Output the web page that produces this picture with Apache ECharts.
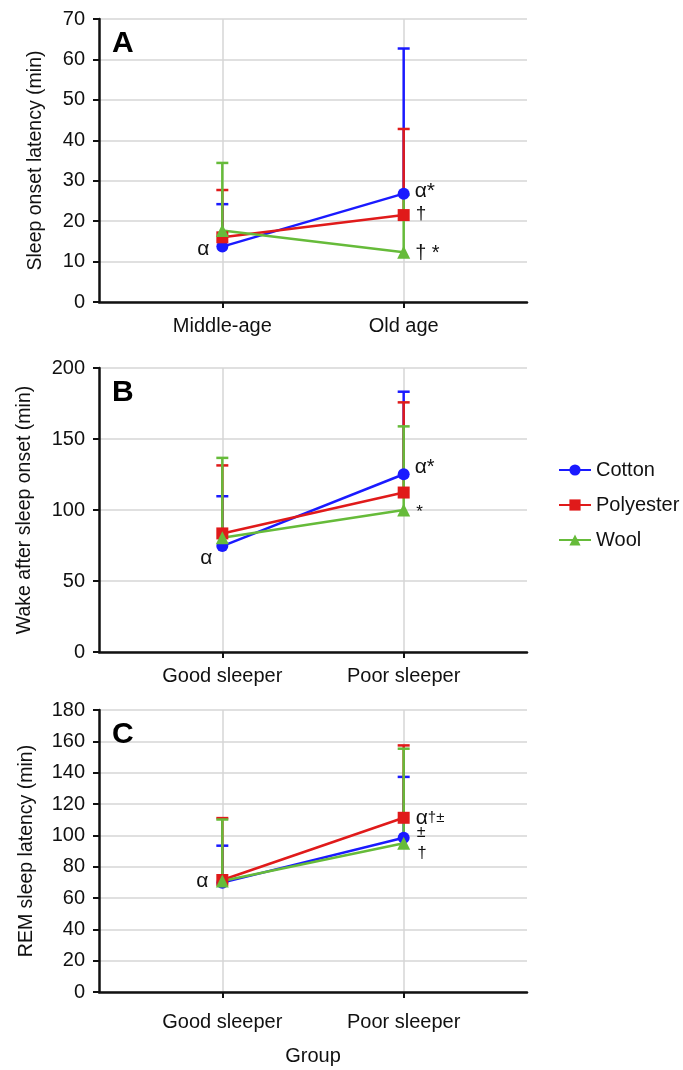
<!DOCTYPE html>
<html><head><meta charset="utf-8">
<script src="https://cdn.jsdelivr.net/npm/echarts@6/dist/echarts.min.js"></script>
<style>html,body{margin:0;padding:0;background:#fff}#c{width:683px;height:1070px}</style>
</head><body><div id="c"></div><script>
// ---------- data ----------
const seriesNames = ['Cotton', 'Polyester', 'Wool'];
const categoriesA = ['Middle-age', 'Old age'];
const categoriesB = ['Good sleeper', 'Poor sleeper'];
const categoriesC = ['Good sleeper', 'Poor sleeper'];

// Panel A: sleep onset latency (min)
const cottonA = [13.7, 26.8];
const cottonA_upper = [24.2, 62.7];
const polyesterA = [16.0, 21.5];
const polyesterA_upper = [27.7, 42.8];
const woolA = [17.7, 12.3];
const woolA_upper = [34.4, 26.5];
const marksA_cotton = ['α', 'α*'];
const marksA_polyester = ['', '†'];
const marksA_wool = ['', '† *'];

// Panel B: wake after sleep onset (min)
const cottonB = [74.6, 125.2];
const cottonB_upper = [109.7, 183.3];
const polyesterB = [83.5, 112.3];
const polyesterB_upper = [131.4, 175.8];
const woolB = [80.5, 100.0];
const woolB_upper = [136.7, 158.9];
const marksB_cotton = ['α', 'α*'];
const marksB_polyester = ['', ''];
const marksB_wool = ['', '*'];

// Panel C: REM sleep latency (min)
const cottonC = [69.8, 98.5];
const cottonC_upper = [93.4, 137.3];
const polyesterC = [71.5, 111.2];
const polyesterC_upper = [111.0, 157.4];
const woolC = [70.9, 94.9];
const woolC_upper = [110.1, 155.3];
const marksC_cotton = ['α', '±'];
const marksC_polyester = ['', 'α†±'];
const marksC_wool = ['', '†'];

const yTicksA = [0, 10, 20, 30, 40, 50, 60, 70];
const yTicksB = [0, 50, 100, 150, 200];
const yTicksC = [0, 20, 40, 60, 80, 100, 120, 140, 160, 180];

// ---------- styles ----------
const FONT = 'Liberation Sans, Arial, sans-serif';
const colors = { Cotton: '#1a1aff', Polyester: '#e01a1a', Wool: '#66bb3a' };
const symbols = { Cotton: 'circle', Polyester: 'rect', Wool: 'triangle' };
const symbolSizes = { Cotton: 12, Polyester: 12, Wool: 13 };

const panels = [
  { letter: 'A', title: 'Sleep onset latency (min)', cats: categoriesA, ticks: yTicksA,
    top: 19, bottom: 768, nameGap: 53, labelMargin: 14,
    vals: { Cotton: cottonA, Polyester: polyesterA, Wool: woolA },
    ups: { Cotton: cottonA_upper, Polyester: polyesterA_upper, Wool: woolA_upper },
    marks: { Cotton: marksA_cotton, Polyester: marksA_polyester, Wool: marksA_wool },
    lpos: { Cotton: [{p:'left',d:7,o:[0,3],s:20},{p:'right',d:5,o:[0,-2],s:21}],
            Polyester: [null,{p:'right',d:6,o:[0,-1],s:19}],
            Wool: [null,{p:'right',d:5,o:[0,1],s:20}] } },
  { letter: 'B', title: 'Wake after sleep onset (min)', cats: categoriesB, ticks: yTicksB,
    top: 368, bottom: 418, nameGap: 64, labelMargin: 14,
    vals: { Cotton: cottonB, Polyester: polyesterB, Wool: woolB },
    ups: { Cotton: cottonB_upper, Polyester: polyesterB_upper, Wool: woolB_upper },
    marks: { Cotton: marksB_cotton, Polyester: marksB_polyester, Wool: marksB_wool },
    lpos: { Cotton: [{p:'left',d:4,o:[0,12],s:20},{p:'right',d:5,o:[0,-7],s:20}],
            Polyester: [null,null],
            Wool: [null,{p:'right',d:6,o:[0,2],s:17}] } },
  { letter: 'C', title: 'REM sleep latency (min)', cats: categoriesC, ticks: yTicksC,
    top: 710, bottom: 78, nameGap: 62, labelMargin: 20,
    vals: { Cotton: cottonC, Polyester: polyesterC, Wool: woolC },
    ups: { Cotton: cottonC_upper, Polyester: polyesterC_upper, Wool: woolC_upper },
    marks: { Cotton: marksC_cotton, Polyester: marksC_polyester, Wool: marksC_wool },
    lpos: { Cotton: [{p:'left',d:8,o:[0,-1],s:20},{p:'right',d:7,o:[0,-5],s:16}],
            Polyester: [null,{p:'right',d:6,o:[0,0],s:15}],
            Wool: [null,{p:'right',d:7,o:[0,10],s:17}] } }
];

function errRender(color) {
  return function (params, api) {
    const x = api.value(0), m = api.value(1), u = api.value(2);
    const p0 = api.coord([x, m]), p1 = api.coord([x, u]);
    const w = 6;
    return { type: 'group', children: [
      { type: 'line', shape: { x1: p0[0], y1: p0[1], x2: p1[0], y2: p1[1] }, style: { stroke: color, lineWidth: 2.5 } },
      { type: 'line', shape: { x1: p1[0] - w, y1: p1[1], x2: p1[0] + w, y2: p1[1] }, style: { stroke: color, lineWidth: 2.5 } }
    ]};
  };
}

function richText(t) {
  let out = '';
  for (const ch of t) {
    if (ch === 'α') out += '{a|α}';
    else out += '{s|' + ch + '}';
  }
  return out;
}

const grids = [], xAxes = [], yAxes = [], series = [], titles = [];
panels.forEach((P, gi) => {
  grids.push({ left: 99, right: 156, top: P.top, bottom: P.bottom });
  const cats = P.cats;
  xAxes.push({
    gridIndex: gi, type: 'value', min: 0.32, max: 2.68,
    name: gi === 2 ? 'Group' : '', nameLocation: 'middle', nameGap: 54,
    nameTextStyle: { fontFamily: FONT, fontSize: 20, color: '#111' },
    axisLine: { show: true, onZero: false, lineStyle: { color: '#111', width: 2.5 } },
    axisTick: { show: true, customValues: [1, 2], length: 6, lineStyle: { color: '#111', width: 2 } },
    axisLabel: { customValues: [1, 2], formatter: v => cats[Math.round(v) - 1] || '',
                 fontFamily: FONT, fontSize: 20, color: '#111', margin: P.labelMargin },
    splitLine: { show: true, lineStyle: { color: '#d6d6d6', width: 1.5 } }
  });
  const tk = P.ticks;
  yAxes.push({
    gridIndex: gi, type: 'value', min: tk[0], max: tk[tk.length - 1], interval: tk[1] - tk[0],
    name: P.title, nameLocation: 'middle', nameGap: P.nameGap,
    nameTextStyle: { fontFamily: FONT, fontSize: 19.5, color: '#111' },
    axisLine: { show: true, lineStyle: { color: '#111', width: 2.5 } },
    axisTick: { show: true, length: 6, lineStyle: { color: '#111', width: 2 } },
    axisLabel: { fontFamily: FONT, fontSize: 20, color: '#111', margin: 14 },
    splitLine: { show: true, lineStyle: { color: '#d6d6d6', width: 1.5 } }
  });
  titles.push({ text: P.letter, left: 107, top: P.top + 5,
    textStyle: { fontFamily: FONT, fontSize: 30, fontWeight: 'bold', color: '#000' } });

  seriesNames.forEach(name => {
    const v = P.vals[name], u = P.ups[name];
    series.push({
      type: 'custom', name: name + ' SD', xAxisIndex: gi, yAxisIndex: gi, z: 2,
      renderItem: errRender(colors[name]), encode: { x: 0, y: [1, 2] },
      data: v.map((val, i) => [i + 1, val, u[i]]), silent: true
    });
  });
  seriesNames.forEach(name => {
    const v = P.vals[name];
    const data = v.map((val, i) => {
      const mk = P.marks[name][i];
      const lp = P.lpos[name][i];
      const item = { value: [i + 1, val] };
      if (mk && lp) {
        item.label = {
          show: true, formatter: richText(mk), position: lp.p, distance: lp.d, offset: lp.o,
          rich: { a: { fontFamily: FONT, fontSize: 21, color: '#111' },
                  s: { fontFamily: FONT, fontSize: lp.s, color: '#111' } }
        };
      }
      return item;
    });
    series.push({
      type: 'line', name: name, xAxisIndex: gi, yAxisIndex: gi, z: 3,
      data: data, symbol: symbols[name], symbolSize: symbolSizes[name],
      itemStyle: { color: colors[name] }, lineStyle: { color: colors[name], width: 2.5 },
      label: { show: false }
    });
  });
});

const chart = echarts.init(document.getElementById('c'));
chart.setOption({
  animation: false,
  backgroundColor: '#fff',
  title: titles,
  legend: {
    data: seriesNames, orient: 'vertical', left: 553, top: 455, itemGap: 15,
    itemWidth: 32, itemHeight: 14,
    textStyle: { fontFamily: FONT, fontSize: 20, color: '#111' }
  },
  grid: grids, xAxis: xAxes, yAxis: yAxes, series: series
});
</script></body></html>
